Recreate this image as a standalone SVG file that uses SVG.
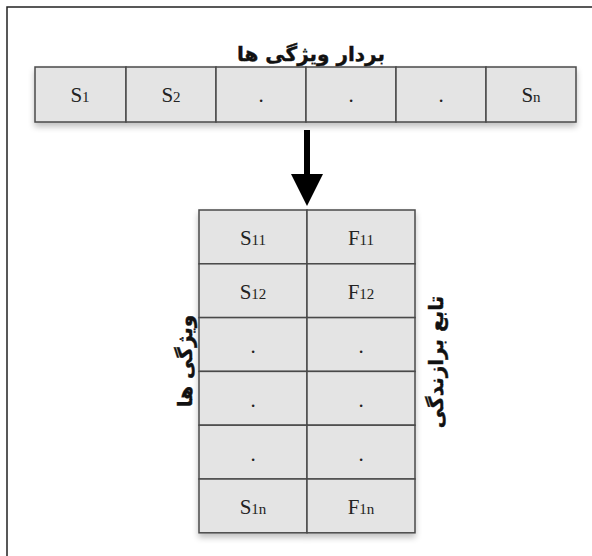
<svg xmlns="http://www.w3.org/2000/svg" width="592" height="556" viewBox="0 0 592 556">
  <defs>
    <filter id="soft" x="-10%" y="-10%" width="120%" height="130%">
      <feGaussianBlur in="SourceAlpha" stdDeviation="3"/>
      <feOffset dx="0" dy="4" result="b"/>
      <feComponentTransfer><feFuncA type="linear" slope="0.25"/></feComponentTransfer>
      <feMerge><feMergeNode/><feMergeNode in="SourceGraphic"/></feMerge>
    </filter>
  </defs>
  <style>
    .cell { fill: #e4e4e4; stroke: #4a4a4a; stroke-width: 1.5; }
    .lbl { font-family: "Liberation Serif", "Times New Roman", serif; font-size: 21px; fill: #222; text-anchor: middle; }
    .sub { font-size: 15px; }
    .fa { font-family: "DejaVu Sans", "Noto Sans", sans-serif; font-weight: bold; font-size: 20px; fill: #111; stroke: #111; stroke-width: 0.4; text-anchor: middle; }
    .frame { stroke: #222; stroke-width: 1.5; fill: none; }
  </style>

  <rect width="592" height="556" fill="#ffffff"/>
  <path class="frame" d="M7,556 V7 H592"/>

  <!-- feature vector -->
  <g id="vector" filter="url(#soft)">
    <rect class="cell" x="35" y="67" width="91" height="55"/>
    <rect class="cell" x="126" y="67" width="90" height="55"/>
    <rect class="cell" x="216" y="67" width="90" height="55"/>
    <rect class="cell" x="306" y="67" width="90" height="55"/>
    <rect class="cell" x="396" y="67" width="90" height="55"/>
    <rect class="cell" x="486" y="67" width="90" height="55"/>
  </g>
  <g id="vector-labels">
    <text class="lbl" x="80" y="102">S<tspan class="sub">1</tspan></text>
    <text class="lbl" x="171" y="102">S<tspan class="sub">2</tspan></text>
    <text class="lbl" x="261" y="102">.</text>
    <text class="lbl" x="351" y="102">.</text>
    <text class="lbl" x="441" y="102">.</text>
    <text class="lbl" x="531" y="102">S<tspan class="sub">n</tspan></text>
  </g>
  <g id="vector-title">
    <text class="fa" x="311" y="61">بردار ویژگی ها</text>
  </g>

  <!-- connector -->
  <g id="connectors">
    <line x1="307" y1="130" x2="307" y2="176" stroke="#000" stroke-width="6"/>
    <polygon points="291,174 323,174 307,206" fill="#000"/>
  </g>

  <!-- feature / fitness table -->
  <g id="table" filter="url(#soft)">
    <rect class="cell" x="199" y="210" width="108" height="53.8"/>
    <rect class="cell" x="307" y="210" width="108" height="53.8"/>
    <rect class="cell" x="199" y="263.8" width="108" height="53.8"/>
    <rect class="cell" x="307" y="263.8" width="108" height="53.8"/>
    <rect class="cell" x="199" y="317.6" width="108" height="53.8"/>
    <rect class="cell" x="307" y="317.6" width="108" height="53.8"/>
    <rect class="cell" x="199" y="371.4" width="108" height="53.8"/>
    <rect class="cell" x="307" y="371.4" width="108" height="53.8"/>
    <rect class="cell" x="199" y="425.2" width="108" height="53.8"/>
    <rect class="cell" x="307" y="425.2" width="108" height="53.8"/>
    <rect class="cell" x="199" y="479" width="108" height="53.8"/>
    <rect class="cell" x="307" y="479" width="108" height="53.8"/>
  </g>
  <g id="table-labels">
    <text class="lbl" x="253" y="245">S<tspan class="sub">11</tspan></text>
    <text class="lbl" x="361" y="245">F<tspan class="sub">11</tspan></text>
    <text class="lbl" x="253" y="299">S<tspan class="sub">12</tspan></text>
    <text class="lbl" x="361" y="299">F<tspan class="sub">12</tspan></text>
    <text class="lbl" x="253" y="353">.</text>
    <text class="lbl" x="361" y="353">.</text>
    <text class="lbl" x="253" y="407">.</text>
    <text class="lbl" x="361" y="407">.</text>
    <text class="lbl" x="253" y="461">.</text>
    <text class="lbl" x="361" y="461">.</text>
    <text class="lbl" x="253" y="514">S<tspan class="sub">1n</tspan></text>
    <text class="lbl" x="361" y="514">F<tspan class="sub">1n</tspan></text>
  </g>

  <g id="label-features">
    <text class="fa" transform="translate(192,361) rotate(-90)">ویژگی ها</text>
  </g>
  <g id="label-fitness">
    <text class="fa" transform="translate(443,362) rotate(-90)">تابع برازندگی</text>
  </g>
</svg>
